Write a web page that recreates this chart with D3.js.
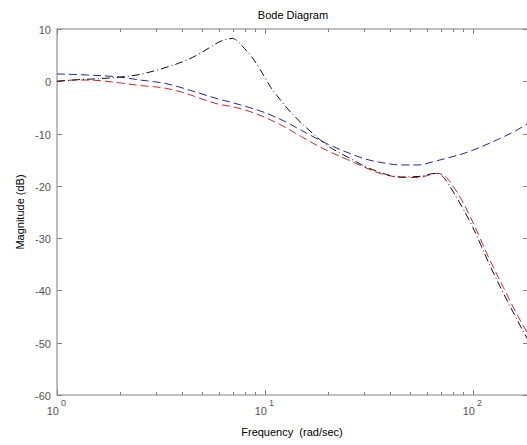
<!DOCTYPE html>
<html>
<head>
<meta charset="utf-8">
<script src="https://cdn.jsdelivr.net/npm/d3@7"></script>
<style>
  body { margin: 0; background: #fff; }
  svg { display: block; font-family: "Liberation Sans", Arial, sans-serif; }
  .tick-label { fill: #555; font-size: 11px; }
  .lbl { fill: #000; font-size: 11px; }
</style>
</head>
<body>
<div id="chart"></div>
<script>
var width = 527, height = 445;

// frequency (rad/sec) and magnitude (dB)
var freqBlack = [1, 1.25, 1.6, 2, 2.5, 3, 3.5, 4, 4.5, 5, 5.5, 6, 6.5, 7, 7.5, 8, 8.7, 9.5, 10.6, 12, 13, 15, 17, 20, 25, 30, 35, 40, 45, 55, 63, 68, 72, 80, 90, 100, 120, 140, 160, 190];
var magBlack  = [0, 0.3, 0.5, 0.8, 1.3, 2.1, 2.9, 3.7, 4.6, 5.6, 6.6, 7.5, 8.0, 8.2, 7.4, 6.2, 4.5, 2.2, -1.0, -3.8, -5.5, -8.0, -10.0, -12.3, -14.5, -16.2, -17.3, -18.0, -18.3, -18.2, -17.7, -17.6, -18.3, -21.0, -24.5, -28.0, -35.0, -40.5, -45.0, -50.5];

var freqRed = [1, 1.25, 1.5, 2, 2.5, 3.3, 4, 4.6, 5.75, 7.6, 10, 12, 15, 20, 25, 30, 35, 40, 45, 55, 62, 67, 72, 80, 90, 100, 120, 140, 160, 190];
var magRed  = [0, 0.25, 0.2, -0.3, -0.8, -1.3, -2.1, -2.9, -4.2, -5.2, -6.9, -8.4, -10.6, -13.3, -15.0, -16.4, -17.5, -18.1, -18.4, -18.4, -17.9, -17.6, -17.9, -20.0, -23.3, -27.0, -34.0, -39.4, -44.0, -49.3];

var freqBlue = [1, 1.4, 2, 2.5, 3.3, 4.6, 5.75, 7.6, 10, 12.2, 15, 20, 25.6, 30, 37, 45, 55, 64, 75, 93.5, 110, 134, 160, 190];
var magBlue  = [1.4, 1.2, 0.8, 0.25, -0.4, -2.0, -3.2, -4.5, -6.0, -7.5, -9.4, -12.0, -13.8, -14.8, -15.6, -16.0, -16.0, -15.4, -14.7, -13.6, -12.5, -11.0, -9.5, -7.7];

var yTicks = [10, 0, -10, -20, -30, -40, -50, -60];
var xDecades = [1, 10, 100];

var x = d3.scaleLog().domain([1, 184]).range([57, 528]);
var y = d3.scaleLinear().domain([-60, 10]).range([395, 29]);

var svg = d3.select("#chart").append("svg")
  .attr("width", width)
  .attr("height", height);

var axisColor = "#808080";

// box
svg.append("rect")
  .attr("x", x.range()[0]).attr("y", y.range()[1])
  .attr("width", x.range()[1] - x.range()[0])
  .attr("height", y.range()[0] - y.range()[1])
  .attr("fill", "none").attr("stroke", axisColor).attr("stroke-width", 1);

// minor + major x ticks on bottom and top, pointing in
var xTickVals = [];
xDecades.forEach(function(d) {
  for (var k = 1; k < 10; k++) {
    var v = d * k;
    if (v <= x.domain()[1]) xTickVals.push(v);
  }
});
var gx = svg.append("g");
xTickVals.forEach(function(v) {
  var major = xDecades.indexOf(v) >= 0;
  var len = major ? 5 : 3;
  var px = Math.round(x(v)) + 0.5;
  gx.append("line").attr("x1", px).attr("x2", px)
    .attr("y1", y.range()[0]).attr("y2", y.range()[0] - len)
    .attr("stroke", axisColor);
  gx.append("line").attr("x1", px).attr("x2", px)
    .attr("y1", y.range()[1]).attr("y2", y.range()[1] + len)
    .attr("stroke", axisColor);
});

// y ticks left and right
var gy = svg.append("g");
yTicks.forEach(function(v) {
  var py = Math.round(y(v)) + 0.5;
  gy.append("line").attr("x1", x.range()[0]).attr("x2", x.range()[0] + 5)
    .attr("y1", py).attr("y2", py).attr("stroke", axisColor);
  gy.append("line").attr("x1", x.range()[1]).attr("x2", x.range()[1] - 5)
    .attr("y1", py).attr("y2", py).attr("stroke", axisColor);
  gy.append("text").attr("class", "tick-label")
    .attr("x", x.range()[0] - 6).attr("y", py + 4)
    .attr("text-anchor", "end")
    .text(v);
});

// x tick labels 10^n
xDecades.forEach(function(v, i) {
  var px = x(v);
  gx.append("text").attr("class", "tick-label")
    .attr("x", px + 2).attr("y", 415)
    .attr("text-anchor", "end")
    .text("10");
  gx.append("text").attr("class", "tick-label")
    .attr("x", px + 4).attr("y", 406)
    .style("font-size", "9px")
    .text(i);
});

// labels
svg.append("text").attr("class", "lbl")
  .attr("x", 293).attr("y", 19).attr("text-anchor", "middle")
  .text("Bode Diagram");
svg.append("text").attr("class", "lbl")
  .attr("x", 292).attr("y", 436).attr("text-anchor", "middle")
  .style("white-space", "pre")
  .text("Frequency  (rad/sec)");
svg.append("text").attr("class", "lbl")
  .attr("transform", "translate(24,212) rotate(-90)")
  .attr("text-anchor", "middle")
  .text("Magnitude (dB)");

// curves
var line = d3.line()
  .x(function(d) { return x(d[0]); })
  .y(function(d) { return y(d[1]); })
  .curve(d3.curveMonotoneX);

var plot = svg.append("g");
plot.append("path")
  .datum(d3.zip(freqRed, magRed))
  .attr("d", line)
  .attr("fill", "none").attr("stroke", "#cc2a2a").attr("stroke-width", 1)
  .attr("stroke-dasharray", "8,4");
plot.append("path")
  .datum(d3.zip(freqBlue, magBlue))
  .attr("d", line)
  .attr("fill", "none").attr("stroke", "#23299a").attr("stroke-width", 1)
  .attr("stroke-dasharray", "8,4");
plot.append("path")
  .datum(d3.zip(freqBlack, magBlack))
  .attr("d", line)
  .attr("fill", "none").attr("stroke", "#111").attr("stroke-width", 1)
  .attr("stroke-dasharray", "8,3,1,3");
</script>
</body>
</html>
